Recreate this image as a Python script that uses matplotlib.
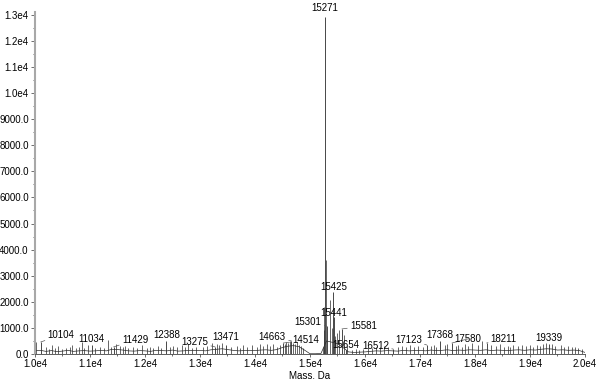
import numpy as np
import matplotlib
matplotlib.use("Agg")
import matplotlib.pyplot as plt

plt.rcParams["font.family"] = ["Liberation Sans", "DejaVu Sans"]

# baseline of the trace, 100 Da steps from 10000 to 20000
base_mass = np.arange(10000, 20001, 100)
base_int = [
    120, 140, 100, 130, 90, 110, 140, 100, 120, 130,
    110, 120, 140, 120, 180, 170, 150, 120, 110, 130,
    120, 100, 140, 130, 120, 150, 110, 120, 140, 130,
    140, 120, 160, 180, 200, 170, 140, 120, 130, 140,
    130, 150, 160, 140, 170, 250, 300, 320, 280, 150,
    10, 10, 20, 500, 450, 400, 250, 80, 60, 70,
    80, 100, 120, 110, 130, 120, 110, 140, 120, 130,
    140, 120, 150, 130, 140, 160, 130, 150, 140, 160,
    150, 140, 160, 130, 150, 140, 130, 150, 160, 140,
    160, 150, 180, 200, 190, 150, 160, 140, 150, 130,
    60,
]

# unlabeled spikes
spike_mass = [
    10010, 10195, 10250, 10304, 10360, 10418, 10500, 10560, 10636, 10667,
    10740, 10800, 10849, 10900, 10964,
    11100, 11182, 11250, 11327, 11380, 11470, 11545, 11600, 11636, 11700,
    11782, 11850, 11940,
    12040, 12090, 12150, 12236, 12300, 12450, 12509, 12580, 12667, 12720,
    12782, 12860, 12930,
    13050, 13121, 13212, 13303, 13350, 13394, 13560, 13667, 13720, 13787,
    13860, 13940,
    14030, 14091, 14150, 14212, 14270, 14333, 14400, 14460,
    14540, 14570, 14600, 14630, 14700, 14730, 14760, 14800, 14840, 14880,
    15240, 15255, 15262, 15282, 15364, 15394, 15460, 15500, 15527, 15618,
    15680,
    15760, 15830, 15900, 15960,
    16050, 16120, 16200, 16280, 16350, 16420, 16600, 16680, 16750, 16820,
    16900, 16960,
    17050, 17200, 17260, 17300, 17450, 17500, 17650, 17700, 17760, 17820,
    17880, 17950,
    18060, 18121, 18300, 18380, 18455, 18520, 18600, 18640, 18700, 18780,
    18850, 18920,
    19000, 19050, 19120, 19180, 19240, 19290, 19400, 19450, 19560, 19620,
    19700, 19760, 19820, 19880, 19940,
]
spike_int = [
    460, 270, 200, 350, 220, 300, 200, 230, 280, 350,
    220, 260, 460, 240, 330,
    230, 270, 220, 540, 260, 380, 300, 250, 320, 230,
    260, 220, 330,
    230, 280, 240, 300, 230, 250, 320, 260, 350, 250,
    370, 240, 280,
    250, 300, 420, 400, 330, 420, 260, 300, 240, 330,
    260, 330,
    260, 370, 300, 370, 300, 370, 280, 330,
    380, 460, 420, 480, 440, 400, 450, 360, 300, 220,
    250, 900, 1800, 3600, 2070, 1000, 700, 800, 920, 730,
    300,
    150, 180, 160, 200,
    250, 220, 280, 250, 300, 260, 280, 300, 250, 330,
    270, 300,
    280, 300, 350, 280, 330, 380, 300, 350, 280, 380,
    300, 420,
    330, 500, 350, 300, 380, 280, 300, 260, 330, 300,
    350, 300,
    330, 280, 340, 300, 400, 420, 380, 300, 330, 280,
    300, 250, 280, 240, 200,
]

# labeled peaks
peak_mass = [10104, 11034, 11429, 12388, 13275, 13471, 14514, 14663, 15271,
             15301, 15425, 15441, 15581, 15654, 16512, 17123, 17368, 17580,
             18211, 19339]
peak_int = [460, 345, 270, 510, 270, 345, 420, 500, 12920,
            1070, 2380, 1420, 960, 150, 190, 345, 500, 420,
            420, 380]
peak_labels = [str(m) for m in peak_mass]

# label placement: (dx, dy) in points, horizontal alignment, leader line
label_place = [
    (5, 5, "left", True), (0, 4.3, "center", False), (6, 5, "left", True),
    (0, 4, "center", False), (-5, 3.6, "right", True), (0, 5.5, "center", False),
    (6.5, 2, "left", True), (-4, 3, "right", True), (0, 6.5, "center", False),
    (-3.6, 3, "right", True), (0, 3.6, "center", False), (0, 3, "center", False),
    (5.8, 2, "left", True), (0, 3.6, "center", False), (-3, 2, "right", True),
    (-3.6, 3.6, "right", True), (0, 4, "center", False), (2, 3, "left", True),
    (3, 3, "left", True), (0, 4.3, "center", False),
]

y_ticks = np.arange(0, 13001, 1000)
y_ticklabels = ["0.0", "1000.0", "2000.0", "3000.0", "4000.0", "5000.0",
                "6000.0", "7000.0", "8000.0", "9000.0", "1.0e4", "1.1e4",
                "1.2e4", "1.3e4"]
x_ticks = np.arange(10000, 20001, 1000)
x_ticklabels = ["1.0e4", "1.1e4", "1.2e4", "1.3e4", "1.4e4", "1.5e4",
                "1.6e4", "1.7e4", "1.8e4", "1.9e4", "2.0e4"]

fig = plt.figure(figsize=(6.0, 3.79), dpi=100)
ax = fig.add_axes([0.0583, 0.066, 0.9167, 0.902])

trace = "#2a2a2a"
ax.plot(base_mass, base_int, color=trace, lw=0.5)
ax.vlines(spike_mass, 0, spike_int, color=trace, lw=0.5)
ax.vlines(peak_mass, 0, peak_int, color=trace, lw=0.6)

for m, h, lab, (dx, dy, ha, lead) in zip(peak_mass, peak_int, peak_labels, label_place):
    kw = {}
    if lead:
        kw["arrowprops"] = dict(arrowstyle="-", color="#555555", lw=0.5,
                                shrinkA=0, shrinkB=0)
    ax.annotate(lab, xy=(m, h), xytext=(dx, dy), textcoords="offset points",
                ha=ha, va="center", fontsize=7, color="black",
                annotation_clip=False, **kw)

ax.set_xlim(10000, 20000)
ax.set_ylim(0, 13100)
ax.set_yticks(y_ticks)
ax.set_yticklabels(y_ticklabels)
ax.set_xticks(x_ticks)
ax.set_xticklabels(x_ticklabels)
ax.set_yticks(np.arange(500, 13001, 1000), minor=True)
ax.set_xticks(np.arange(10500, 20000, 1000), minor=True)
ax.tick_params(axis="both", which="major", labelsize=7, length=3, width=0.6,
               color="#555555", pad=1.5)
ax.tick_params(axis="x", which="major", length=2.5, pad=0.8)
ax.tick_params(axis="both", which="minor", length=1.5, width=0.6, color="#555555")
ax.set_xlabel("Mass, Da", fontsize=7)
ax.xaxis.set_label_coords(0.5, -0.063)
ax.xaxis.label.set_va("center")

for side in ("top", "right"):
    ax.spines[side].set_visible(False)
ax.spines["left"].set_color("#a8a8a8")
ax.spines["left"].set_linewidth(1.5)
ax.spines["bottom"].set_color("#444444")
ax.spines["bottom"].set_linewidth(0.6)

fig.savefig("out.png", dpi=100)
